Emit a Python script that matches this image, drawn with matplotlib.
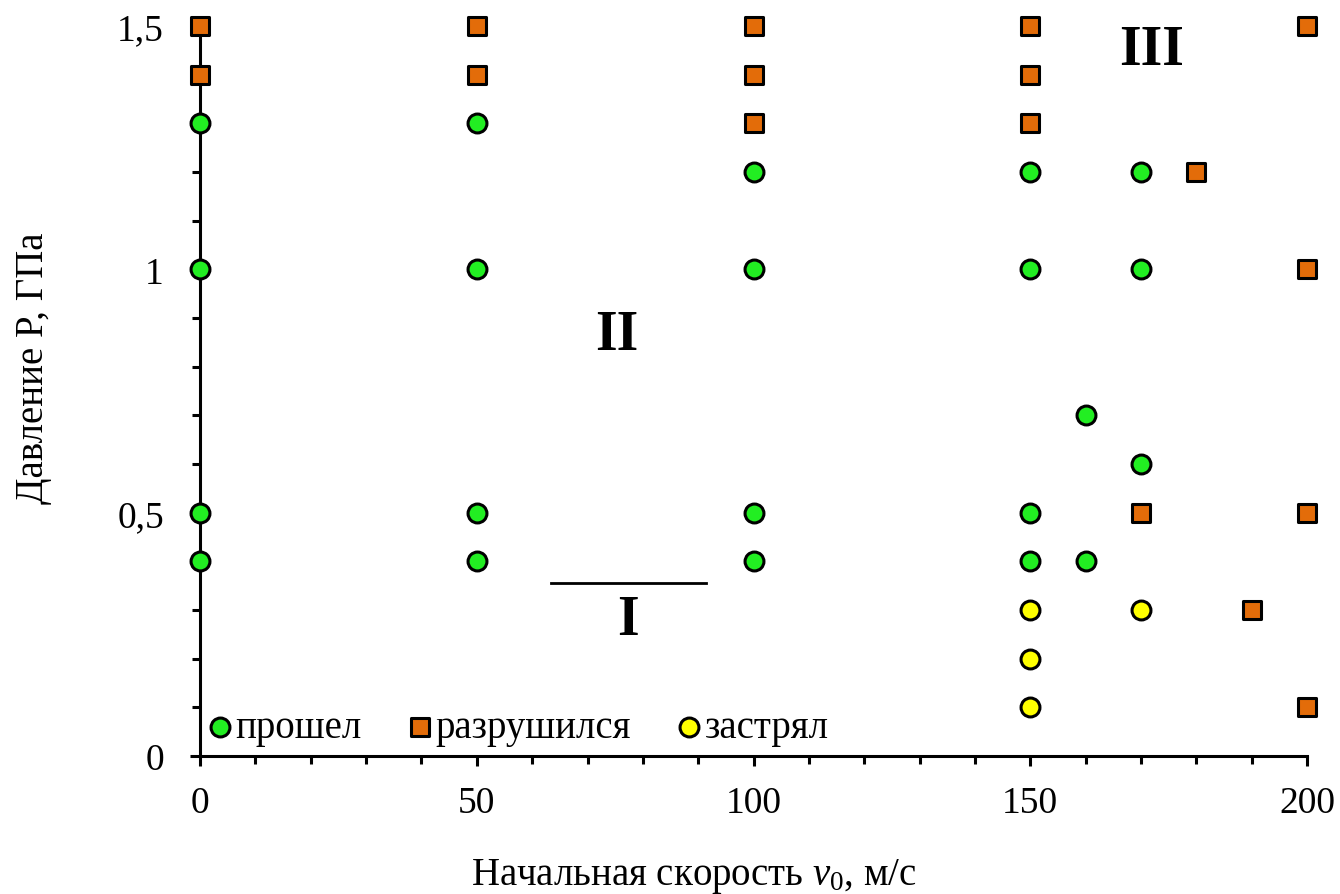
import matplotlib
matplotlib.use("Agg")
import matplotlib.pyplot as plt
from matplotlib.ticker import MultipleLocator, FuncFormatter

# данные: скорость v0 (м/с) и давление P (ГПа)
passed_v = [0, 0, 0, 0, 50, 50, 50, 50, 100, 100, 100, 100,
            150, 150, 150, 150, 160, 160, 170, 170, 170]
passed_p = [1.3, 1.0, 0.5, 0.4, 1.3, 1.0, 0.5, 0.4, 1.2, 1.0, 0.5, 0.4,
            1.2, 1.0, 0.5, 0.4, 0.7, 0.4, 1.2, 1.0, 0.6]

broken_v = [0, 0, 50, 50, 100, 100, 100, 150, 150, 150,
            180, 200, 200, 170, 200, 190, 200]
broken_p = [1.5, 1.4, 1.5, 1.4, 1.5, 1.4, 1.3, 1.5, 1.4, 1.3,
            1.2, 1.5, 1.0, 0.5, 0.5, 0.3, 0.1]

stuck_v = [150, 150, 150, 170]
stuck_p = [0.3, 0.2, 0.1, 0.3]

labels = ['прошел', 'разрушился', 'застрял']

plt.rcParams['font.family'] = ['Liberation Serif', 'DejaVu Serif']
plt.rcParams['mathtext.fontset'] = 'custom'
plt.rcParams['mathtext.rm'] = 'Liberation Serif'
plt.rcParams['mathtext.it'] = 'Liberation Serif:italic'

fig = plt.figure(figsize=(13.4, 8.95), dpi=100)
ax = fig.add_axes([0.1493, 0.1542, 0.8261, 0.8156])

ms = 185
ax.scatter(passed_v, passed_p, s=ms, marker='o', c='#22ee22', edgecolors='black',
           linewidths=2.2, zorder=3, clip_on=False, label=labels[0])
ax.scatter(broken_v, broken_p, s=ms, marker='s', c='#e36c09', edgecolors='black',
           linewidths=2.2, zorder=3, clip_on=False, label=labels[1])
ax.scatter(stuck_v, stuck_p, s=ms, marker='o', c='#ffff00', edgecolors='black',
           linewidths=2.2, zorder=3, clip_on=False, label=labels[2])

ax.set_xlim(0, 200)
ax.set_ylim(0, 1.5)

ax.spines['top'].set_visible(False)
ax.spines['right'].set_visible(False)
ax.spines['left'].set_linewidth(2.2)
ax.spines['bottom'].set_linewidth(2.2)

ax.xaxis.set_major_locator(MultipleLocator(50))
ax.xaxis.set_minor_locator(MultipleLocator(10))
ax.yaxis.set_major_locator(MultipleLocator(0.5))
ax.yaxis.set_minor_locator(MultipleLocator(0.1))
ax.yaxis.set_major_formatter(FuncFormatter(lambda v, p: ('%g' % v).replace('.', ',')))
ax.tick_params(which='both', direction='out', width=2.2, labelsize=27)
ax.tick_params(which='major', length=7)
ax.tick_params(which='minor', length=6)
ax.tick_params(axis='x', which='major', pad=14)
ax.tick_params(axis='y', which='major', pad=19)

ax.set_xlabel('Начальная скорость $\\mathit{v}_0$, м/с', fontsize=28)
ax.set_ylabel('Давление P, ГПа', fontsize=28)
ax.xaxis.set_label_coords(0.446, -0.137)
ax.yaxis.set_label_coords(-0.134, 0.533)

# области
ax.text(75.3, 0.865, 'II', fontsize=40, fontweight='bold', ha='center', va='center')
ax.text(172, 1.45, 'III', fontsize=40, fontweight='bold', ha='center', va='center')
ax.text(77.3, 0.28, 'I', fontsize=40, fontweight='bold', ha='center', va='center')
ax.plot([63.4, 91.4], [0.355, 0.355], color='black', lw=2)

ax.legend(loc='lower left', bbox_to_anchor=(0.0, 0.0), ncol=3, frameon=False,
          fontsize=28, handlelength=0.5, handletextpad=0.15, columnspacing=1.25,
          borderpad=0.0, borderaxespad=0.26)

fig.savefig('out.png', dpi=100)
